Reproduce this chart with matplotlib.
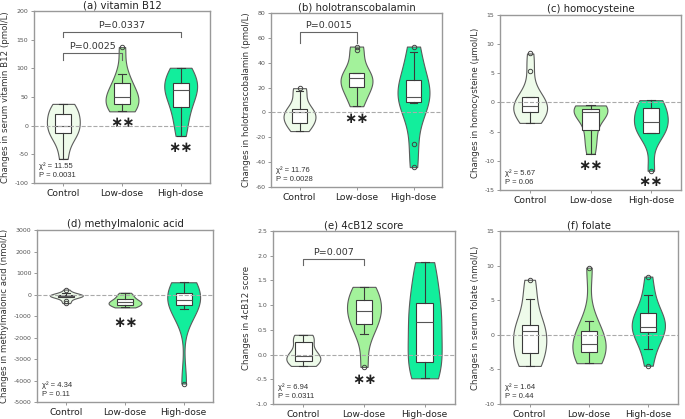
import matplotlib
matplotlib.use("Agg")
import matplotlib.pyplot as plt

plt.rcParams['font.family'] = ['DejaVu Sans']

groups = ["Control", "Low-dose", "High-dose"]
colors = ["#eefbea", "#a3f29b", "#12ee9c"]

# (a) vitamin B12 (pmol/L)
b12_control = [-58, -25, -13, -6, 0, 14, 20, 32, 38]
b12_low = [25, 30, 37, 45, 50, 56, 74, 90, 137]
b12_high = [-18, 12, 33, 52, 63, 70, 74, 95, 101]

# (b) holotranscobalamin (pmol/L)
holo_control = [-15, -10, -8.4, -4, 0, 1, 2.4, 17, 19.5]
holo_low = [5, 13, 20.2, 25, 27.5, 29, 31.5, 50, 53]
holo_high = [-44, -25, 7.6, 9.6, 11, 12.7, 14, 25, 27, 48.5, 53]

# (c) homocysteine (umol/L)
hcy_control = [-3.5, -2.5, -1.8, -1.6, -1.0, -0.6, 0.3, 0.85, 0.95, 5.4, 8.4]
hcy_low = [-8.8, -6.5, -4.7, -2.0, -1.6, -1.4, -1.2, -0.8, -0.5]
hcy_high = [-11.7, -5.3, -5.2, -4.0, -3.4, -2.5, -1.0, 0.0, 0.4]

# (d) methylmalonic acid (nmol/L)
mma_control = [-400, -300, -120, -100, -80, -60, -40, -20, -5, 50, 230]
mma_low = [-600, -520, -470, -400, -350, -300, -190, -50, 80]
mma_high = [-4140, -690, -500, -400, -270, -100, 75, 400, 570]

# (e) 4cB12 score
c4_control = [-0.23, -0.18, -0.12, -0.05, -0.02, 0.05, 0.26, 0.35, 0.40]
c4_low = [-0.25, 0.42, 0.61, 0.75, 0.88, 1.00, 1.10, 1.30, 1.37]
c4_high = [-0.48, -0.30, -0.15, 0.20, 0.66, 0.85, 1.04, 1.62, 1.87]

# (f) folate (nmol/L)
fol_control = [-4.5, -3.5, -2.65, -1.0, 0.55, 1.0, 1.35, 5.2, 7.95]
fol_low = [-4.1, -3.5, -2.55, -2.0, -1.35, -0.5, 0.5, 2.0, 9.7]
fol_high = [-4.47, -2.0, 0.2, 0.5, 0.8, 1.06, 2.0, 3.0, 3.25, 5.77, 8.41]

titles = ["(a) vitamin B12", "(b) holotranscobalamin", "(c) homocysteine",
          "(d) methylmalonic acid", "(e) 4cB12 score", "(f) folate"]
ylabels = ["Changes in serum vitamin B12 (pmol/L)",
           "Changes in holotranscobalamin (pmol/L)",
           "Changes in homocysteine (\u00b5mol/L)",
           "Changes in methylmalonic acid (nmol/L)",
           "Changes in 4cB12 score",
           "Changes in serum folate (nmol/L)"]
stats_text = ["\u03c7\u00b2 = 11.55\nP = 0.0031", "\u03c7\u00b2 = 11.76\nP = 0.0028",
              "\u03c7\u00b2 = 5.67\nP = 0.06", "\u03c7\u00b2 = 4.34\nP = 0.11",
              "\u03c7\u00b2 = 6.94\nP = 0.0311", "\u03c7\u00b2 = 1.64\nP = 0.44"]
ylims = [(-100, 200), (-60, 80), (-15, 15), (-5000, 3000), (-1.0, 2.5), (-10, 15)]
ysteps = [50, 20, 5, 1000, 0.5, 5]

# brackets: (x1, x2, leg_bottom, top, label)
brackets = [
    [(1, 2, 115, 126, "P=0.0025"), (1, 3, 154, 164, "P=0.0337")],
    [(1, 2, 56, 65, "P=0.0015")],
    [],
    [],
    [(1, 2, 1.82, 1.93, "P=0.007")],
    [],
]
# significance stars: (x, y)
stars = [
    [(2, 5), (3, -38)],
    [(2, -5)],
    [(2, -10.8), (3, -13.6)],
    [(2, -1300)],
    [(2, -0.5)],
    [],
]

datasets = [
    [b12_control, b12_low, b12_high],
    [holo_control, holo_low, holo_high],
    [hcy_control, hcy_low, hcy_high],
    [mma_control, mma_low, mma_high],
    [c4_control, c4_low, c4_high],
    [fol_control, fol_low, fol_high],
]

W, H = 685, 419
# axes boxes in pixels: left, top, right, bottom
boxes = [(34, 11, 210, 183), (271, 13, 442, 187), (500, 15, 681, 190),
         (37, 230, 213, 402), (273, 231, 455, 404), (500, 231, 678, 404)]

fig = plt.figure(figsize=(W / 100, H / 100), dpi=100)

for i in range(6):
    l, t, r, b = boxes[i]
    ax = fig.add_axes([l / W, (H - b) / H, (r - l) / W, (b - t) / H])
    data = datasets[i]
    parts = ax.violinplot(data, positions=[1, 2, 3], widths=0.56,
                          showextrema=False, bw_method=0.6, points=200)
    for body, c in zip(parts['bodies'], colors):
        body.set_facecolor(c)
        body.set_edgecolor('#5c5c5c')
        body.set_alpha(1)
        body.set_linewidth(0.8)
        body.set_zorder(1)
    ax.boxplot(data, positions=[1, 2, 3], widths=0.27, patch_artist=True,
               boxprops=dict(facecolor='white', edgecolor='#3a3a3a', linewidth=0.8),
               medianprops=dict(color='#555555', linewidth=0.8),
               whiskerprops=dict(color='#3a3a3a', linewidth=0.8),
               capprops=dict(color='#3a3a3a', linewidth=0.8),
               flierprops=dict(marker='o', markersize=3.2, markerfacecolor='none',
                               markeredgecolor='#444444', markeredgewidth=0.7),
               zorder=3)
    ax.axhline(0, color='#aaaaaa', ls='--', lw=0.8, zorder=5)
    ax.set_xlim(0.5, 3.5)
    lo, hi = ylims[i]
    ax.set_ylim(lo, hi)
    st = ysteps[i]
    n = int(round((hi - lo) / st))
    ticks = [lo + k * st for k in range(n + 1)]
    ax.set_yticks(ticks)
    if st < 1:
        ax.set_yticklabels([f"{v:.1f}" for v in ticks])
    else:
        ax.set_yticklabels([f"{int(round(v))}" for v in ticks])
    ax.tick_params(axis='y', labelsize=4.5, labelcolor='#555555', length=2,
                   width=0.6, color='#888888', pad=2)
    ax.set_xticks([1, 2, 3])
    ax.set_xticklabels(groups, fontsize=6.6, color='#222222')
    ax.tick_params(axis='x', length=2, width=0.6, color='#888888', pad=2)
    for sp in ax.spines.values():
        sp.set_color('#999999')
        sp.set_linewidth(1.0)
    ax.set_title(titles[i], fontsize=7.3, pad=2, color='#222222')
    ax.set_ylabel(ylabels[i], fontsize=6.2, color='#333333', labelpad=3)
    ax.text(0.03, 0.025, stats_text[i], transform=ax.transAxes, fontsize=5.5,
            family=['Liberation Sans', 'DejaVu Sans'], color='#333333',
            va='bottom', ha='left', linespacing=1.3)
    span = hi - lo
    for (x1, x2, yb, yt, lab) in brackets[i]:
        ax.plot([x1, x1, x2, x2], [yb, yt, yt, yb], color='#666666', lw=0.8, zorder=6)
        ax.text((x1 + x2) / 2, yt + span * 0.012, lab, ha='center', va='bottom',
                fontsize=6.8, color='#333333')
    for (x, y) in stars[i]:
        ax.text(x, y, "\u2217\u2217", ha='center', va='center', fontsize=10.5,
                fontweight='bold', color='#222222')

fig.savefig("out.png", dpi=100)
